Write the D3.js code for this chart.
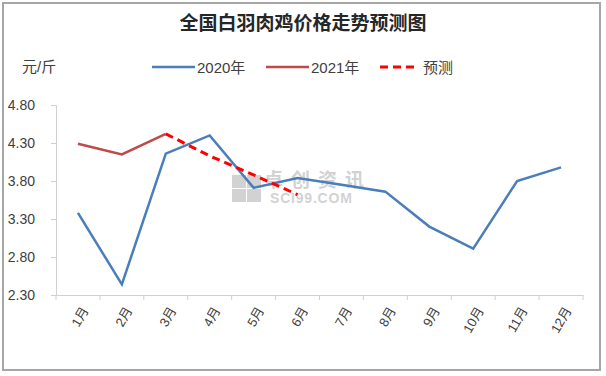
<!DOCTYPE html>
<html>
<head>
<meta charset="utf-8">
<script src="https://cdn.jsdelivr.net/npm/d3@7"></script>
<style>
  body { margin: 0; background: #fff; }
  text { font-family: "Liberation Sans", "Noto Sans CJK SC", sans-serif; }
</style>
</head>
<body>
<div id="chart"></div>
<script>
const months = ["1月", "2月", "3月", "4月", "5月", "6月", "7月", "8月", "9月", "10月", "11月", "12月"];
const price2020 = [3.38, 2.44, 4.16, 4.40, 3.71, 3.84, 3.75, 3.66, 3.20, 2.91, 3.80, 3.98];
const price2021 = [4.29, 4.15, 4.42];
const forecastMonths = ["3月", "4月", "5月", "6月"];
const forecast = [4.42, 4.13, 3.88, 3.62];
const yTicks = [2.30, 2.80, 3.30, 3.80, 4.30, 4.80];

const width = 606, height = 376;
const margin = { top: 105, right: 23, bottom: 81, left: 56 };

const svg = d3.select("#chart").append("svg")
  .attr("width", width)
  .attr("height", height);

// outer frame
svg.append("rect")
  .attr("x", 3).attr("y", 3)
  .attr("width", 597).attr("height", 367)
  .attr("fill", "none")
  .attr("stroke", "#a6a6a6")
  .attr("stroke-width", 2);

const x = d3.scaleBand()
  .domain(months)
  .range([margin.left, width - margin.right]);

const y = d3.scaleLinear()
  .domain([2.3, 4.8])
  .range([height - margin.bottom, margin.top]);

const cx = m => x(m) + x.bandwidth() / 2;

// watermark
const wm = svg.append("g").attr("opacity", 0.38).attr("fill", "#8c8c8c");
[[0, 0], [15, 0], [0, 14], [15, 14]].forEach(([dx, dy]) => {
  wm.append("rect").attr("x", 232 + dx).attr("y", 175 + dy).attr("width", 14).attr("height", 13);
});
wm.append("text").attr("x", 264).attr("y", 187)
  .attr("font-family", "Noto Sans CJK SC").attr("font-size", 19)
  .attr("font-weight", "bold")
  .attr("letter-spacing", 8)
  .text("卓创资讯");
wm.append("text").attr("x", 270).attr("y", 203)
  .attr("font-family", "Liberation Serif").attr("font-size", 14)
  .attr("font-weight", "bold")
  .attr("letter-spacing", 0.8)
  .text("SCI99.COM");

// y axis
const yAxis = svg.append("g")
  .attr("transform", `translate(${margin.left},0)`)
  .call(d3.axisLeft(y).tickValues(yTicks).tickFormat(d3.format(".2f")).tickSizeOuter(0).tickSize(5).tickPadding(16));
yAxis.select(".domain").attr("stroke", "#d0d0d0");
yAxis.selectAll(".tick line").attr("stroke", "#d0d0d0");
yAxis.selectAll("text").attr("font-size", 14).attr("fill", "#404040");

// x axis
const xAxis = svg.append("g")
  .attr("transform", `translate(0,${height - margin.bottom})`)
  .call(d3.axisBottom(x).tickSize(0).tickSizeOuter(0));
xAxis.select(".domain").attr("stroke", "#d0d0d0");
xAxis.selectAll(".tick text")
  .attr("font-family", "Noto Sans CJK SC")
  .attr("font-size", 13)
  .attr("fill", "#404040")
  .attr("text-anchor", "end")
  .attr("transform", "translate(7,13) rotate(-60)")
  .attr("dy", "0.35em")
  .attr("y", 0);
// boundary ticks between months
const bounds = months.map(m => x(m)).concat([width - margin.right]);
svg.append("g").selectAll("line").data(bounds).join("line")
  .attr("x1", d => d).attr("x2", d => d)
  .attr("y1", height - margin.bottom).attr("y2", height - margin.bottom + 5)
  .attr("stroke", "#d0d0d0");

const line = d3.line().x(d => cx(d[0])).y(d => y(d[1]));

svg.append("path")
  .datum(months.map((m, i) => [m, price2020[i]]))
  .attr("d", line)
  .attr("fill", "none")
  .attr("stroke", "#4a7ebb")
  .attr("stroke-width", 2.5);

svg.append("path")
  .datum(price2021.map((v, i) => [months[i], v]))
  .attr("d", line)
  .attr("fill", "none")
  .attr("stroke", "#be4b48")
  .attr("stroke-width", 2.5);

svg.append("path")
  .datum(forecastMonths.map((m, i) => [m, forecast[i]]))
  .attr("d", line)
  .attr("fill", "none")
  .attr("stroke", "#ff0000")
  .attr("stroke-width", 3)
  .attr("stroke-dasharray", "8,5");

// title
svg.append("text")
  .attr("x", 303).attr("y", 30)
  .attr("text-anchor", "middle")
  .attr("font-family", "Noto Sans CJK SC")
  .attr("font-weight", "bold")
  .attr("font-size", 19)
  .attr("fill", "#262626")
  .text("全国白羽肉鸡价格走势预测图");

// unit
svg.append("text")
  .attr("x", 22).attr("y", 72)
  .attr("font-family", "Noto Sans CJK SC")
  .attr("font-size", 15)
  .attr("fill", "#404040")
  .text("元/斤");

// legend
const legendItems = [
  { label: "2020年", color: "#4a7ebb", dash: null, x: 152 },
  { label: "2021年", color: "#be4b48", dash: null, x: 266 },
  { label: "预测", color: "#ff0000", dash: "8,5", x: 380 }
];
const lg = svg.append("g");
legendItems.forEach(d => {
  lg.append("line")
    .attr("x1", d.x).attr("x2", d.x + (d.dash ? 38 : 43))
    .attr("y1", 67).attr("y2", 67)
    .attr("stroke", d.color)
    .attr("stroke-width", d.dash ? 3 : 2.5)
    .attr("stroke-dasharray", d.dash);
  lg.append("text")
    .attr("x", d.x + (d.dash ? 43 : 45)).attr("y", 72.5)
    .attr("font-family", "Noto Sans CJK SC")
    .attr("font-size", 15)
    .attr("fill", "#404040")
    .text(d.label);
});
</script>
</body>
</html>
